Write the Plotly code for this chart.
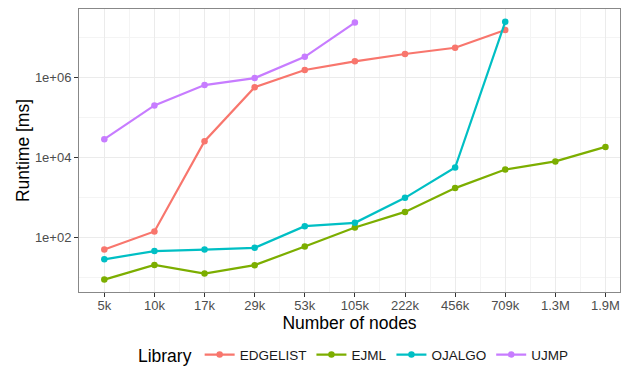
import plotly.graph_objects as go

# Graph sizes (number of nodes) on the x axis
node_labels = ["5k", "10k", "17k", "29k", "53k", "105k", "222k", "456k", "709k", "1.3M", "1.9M"]

# Runtime in milliseconds per library
edgelist = [49, 139, 2.5e4, 5.6e5, 1.5e6, 2.47e6, 3.76e6, 5.4e6, 1.5e7]
ejml = [8.7, 20.3, 12.3, 20, 58.5, 174, 428, 1680, 4.9e3, 7.8e3, 1.8e4]
ojalgo = [28, 45, 49, 54, 188, 228, 960, 5.5e3, 2.4e7]
ujmp = [2.8e4, 1.96e5, 6.3e5, 9.4e5, 3.2e6, 2.3e7]

series = [
    ("EDGELIST", edgelist, "#F8766D"),
    ("EJML", ejml, "#7CAE00"),
    ("OJALGO", ojalgo, "#00BFC4"),
    ("UJMP", ujmp, "#C77CFF"),
]

y_major = [1e2, 1e4, 1e6]
y_major_text = ["1e+02", "1e+04", "1e+06"]
y_minor = [1e1, 1e3, 1e5, 1e7]

FONT = "Liberation Sans, Arial, sans-serif"

fig = go.Figure()
for name, vals, color in series:
    fig.add_trace(go.Scatter(
        x=list(range(len(vals))),
        y=vals,
        name=name,
        mode="lines+markers",
        line=dict(color=color, width=2.2),
        marker=dict(color=color, size=6.5),
    ))

fig.update_layout(
    width=621,
    height=366,
    margin=dict(l=79, r=1, t=9, b=74, autoexpand=False),
    paper_bgcolor="white",
    plot_bgcolor="white",
    font=dict(family=FONT, color="black"),
    showlegend=True,
    legend=dict(
        orientation="h",
        xref="paper",
        x=0.51,
        xanchor="center",
        yref="container",
        y=0.028,
        yanchor="middle",
        title=dict(text="Library", font=dict(size=17.5, color="black")),
        font=dict(size=13.5, color="#1a1a1a"),
        itemwidth=30,
        tracegroupgap=0,
    ),
)

fig.update_xaxes(
    range=[-0.505, 10.29],
    tickmode="array",
    tickvals=list(range(len(node_labels))),
    ticktext=node_labels,
    tickfont=dict(size=13, color="#4D4D4D"),
    ticks="outside",
    ticklen=4,
    tickcolor="#333333",
    ticklabelstandoff=-3,
    showgrid=True,
    gridcolor="#EBEBEB",
    gridwidth=1,
    minor=dict(tickmode="linear", tick0=0.5, dtick=1, showgrid=True,
               gridcolor="#F4F4F4", gridwidth=0.6, ticks=""),
    showline=True,
    linecolor="#888888",
    linewidth=1,
    mirror=True,
    zeroline=False,
    automargin=False,
    title=dict(text="Number of nodes", font=dict(size=17.5, color="black"), standoff=2),
)

fig.update_yaxes(
    type="log",
    range=[0.63, 7.7],
    tickmode="array",
    tickvals=y_major,
    ticktext=y_major_text,
    tickfont=dict(size=13, color="#4D4D4D"),
    ticks="outside",
    ticklen=4,
    tickcolor="#333333",
    showgrid=True,
    gridcolor="#EBEBEB",
    gridwidth=1,
    minor=dict(tickmode="array", tickvals=y_minor, showgrid=True,
               gridcolor="#F4F4F4", gridwidth=0.6, ticks=""),
    showline=True,
    linecolor="#888888",
    linewidth=1,
    mirror=True,
    zeroline=False,
    automargin=False,
    title=dict(text="Runtime [ms]", font=dict(size=17.5, color="black"), standoff=0),
)

fig.write_html("out.html")
